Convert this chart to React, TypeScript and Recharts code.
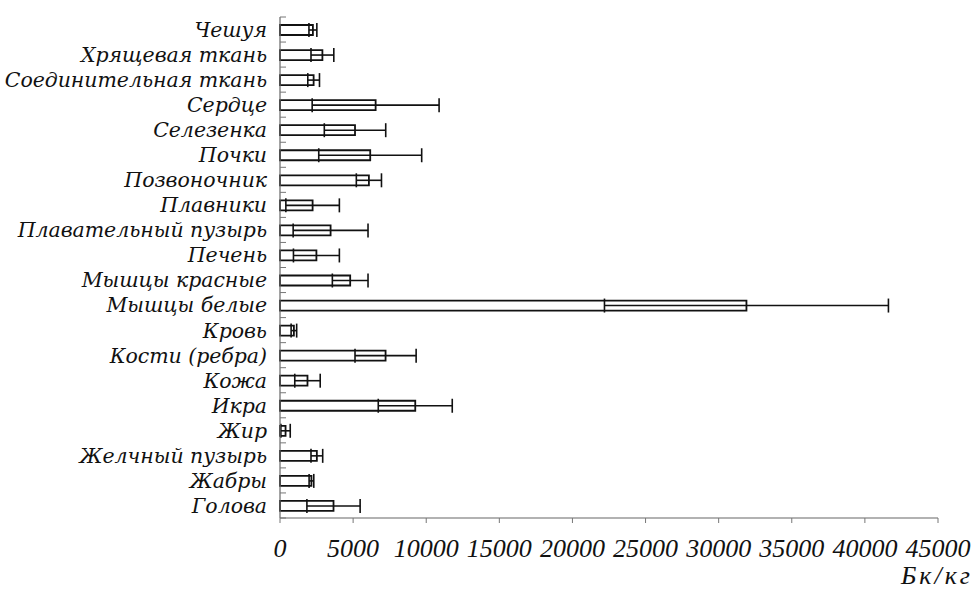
import React from 'react';
import { BarChart, Bar, XAxis, YAxis, ErrorBar } from 'recharts';

const categories = ['Чешуя', 'Хрящевая ткань', 'Соединительная ткань', 'Сердце', 'Селезенка', 'Почки', 'Позвоночник', 'Плавники', 'Плавательный пузырь', 'Печень', 'Мышцы красные', 'Мышцы белые', 'Кровь', 'Кости (ребра)', 'Кожа', 'Икра', 'Жир', 'Желчный пузырь', 'Жабры', 'Голова'];
const values = [2250, 2900, 2300, 6540, 5130, 6170, 6080, 2230, 3460, 2490, 4800, 31900, 950, 7220, 1880, 9250, 380, 2520, 2150, 3660];
const errors = [270, 780, 400, 4340, 2100, 3520, 860, 1830, 2560, 1570, 1220, 9710, 190, 2090, 870, 2530, 320, 400, 160, 1820];
const xTicks = [0, 5000, 10000, 15000, 20000, 25000, 30000, 35000, 40000, 45000];
const unitLabel = 'Бк/кг';

const data = categories.map((name, i) => ({ name, value: values[i], err: errors[i] }));

const LABEL_FONT = '"DejaVu Serif", serif';
const NUM_FONT = '"Liberation Serif", serif';

const TOP = 17;
const PLOT_H = 501;
const BAND = PLOT_H / categories.length;

const YTick = (props: any) => {
  const { x, y, payload, index } = props;
  return (
    <g>
      <line x1={x + 8} x2={x + 14} y1={y + BAND / 2} y2={y + BAND / 2} stroke="#777" strokeWidth={1} />
      {index === 0 && (
        <line x1={x + 8} x2={x + 14} y1={y - BAND / 2} y2={y - BAND / 2} stroke="#777" strokeWidth={1} />
      )}
      <text x={x - 5} y={y} dy="0.36em" textAnchor="end" fontFamily={LABEL_FONT} fontStyle="italic" fontSize={20.5} fill="#111" letterSpacing={-0.05}>
        {payload.value}
      </text>
    </g>
  );
};

const XTick = (props: any) => {
  const { x, y, payload } = props;
  return (
    <g>
      <line x1={x} x2={x} y1={y - 8} y2={y - 3} stroke="#777" strokeWidth={1} />
      <text x={x} y={y + 31} textAnchor="middle" fontFamily={NUM_FONT} fontStyle="italic" fontSize={26} fill="#111">
        {payload.value}
      </text>
    </g>
  );
};

const UnitLabel = (props: any) => {
  const vb = props.viewBox || {};
  return (
    <text x={vb.x + vb.width + 35} y={vb.y + 66} textAnchor="end" fontFamily={NUM_FONT} fontStyle="italic" fontSize={26} fill="#111" letterSpacing={3}>
      {unitLabel}
    </text>
  );
};

export default function App() {
  return (
    <div style={{ position: 'absolute', left: 0, top: 0, width: 972, height: 592, background: '#fff' }}>
      <BarChart
        width={972}
        height={592}
        data={data}
        layout="vertical"
        margin={{ top: TOP, right: 34, bottom: 0, left: 0 }}
        barCategoryGap="30%"
      >
        <XAxis
          type="number"
          domain={[0, 45000]}
          ticks={xTicks}
          interval={0}
          height={74}
          tick={<XTick />}
          tickLine={false}
          axisLine={{ stroke: '#666', strokeWidth: 1.2 }}
          label={<UnitLabel />}
        />
        <YAxis
          type="category"
          dataKey="name"
          width={280}
          interval={0}
          tick={<YTick />}
          tickLine={false}
          axisLine={{ stroke: '#666', strokeWidth: 1.2 }}
        />
        <Bar dataKey="value" fill="#fff" stroke="#111" strokeWidth={1.8} barSize={10} isAnimationActive={false}>
          <ErrorBar dataKey="err" direction="x" width={7} stroke="#111" strokeWidth={1.6} />
        </Bar>
      </BarChart>
    </div>
  );
}
